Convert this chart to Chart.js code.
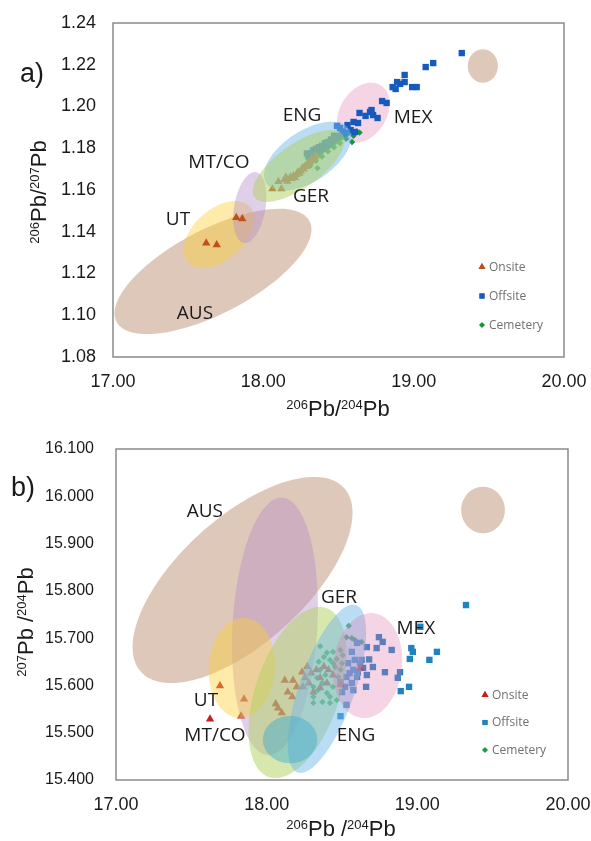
<!DOCTYPE html>
<html><head><meta charset="utf-8">
<script src="https://cdn.jsdelivr.net/npm/chart.js@4.4.1/dist/chart.umd.min.js"></script>
<style>
html,body{margin:0;padding:0;background:#fff;width:591px;height:841px;overflow:hidden;}
#wa{position:absolute;left:0;top:0;width:591px;height:420px;}
#wb{position:absolute;left:0;top:420px;width:591px;height:421px;}
canvas{display:block;}
</style></head><body>
<div id="wa"><canvas id="ca" width="591" height="420"></canvas></div>
<div id="wb"><canvas id="cb" width="591" height="421"></canvas></div>
<script>
// ---------- DATA ----------
const seriesNames = ['Onsite', 'Offsite', 'Cemetery'];
const xTicks = [17.00, 18.00, 19.00, 20.00];
const yTicksA = [1.08, 1.10, 1.12, 1.14, 1.16, 1.18, 1.20, 1.22, 1.24];
const yTicksB = [15.400, 15.500, 15.600, 15.700, 15.800, 15.900, 16.000, 16.100];

// Panel a: 206Pb/204Pb vs 206Pb/207Pb
const onsiteA = [
 [17.62,1.1346],[17.69,1.1337],[17.82,1.1468],[17.86,1.1462],[18.06,1.1605],[18.12,1.1605],
 [18.10,1.1640],[18.14,1.1650],[18.16,1.1642],[18.18,1.1662],[18.20,1.1668],[18.22,1.1674],
 [18.23,1.1686],[18.25,1.1691],[18.27,1.1700],[18.28,1.1712],[18.30,1.1718],[18.31,1.1730],
 [18.33,1.1740],[18.19,1.1655],[18.24,1.1680],[18.26,1.1706],[18.29,1.1724],[18.21,1.1660],
 [18.15,1.1662],[18.34,1.1755],[18.32,1.1748],[18.35,1.1762]
];
const offsiteA = [
 [19.32,1.2256],[19.08,1.2189],[19.13,1.2208],[18.94,1.2151],[18.94,1.2117],[18.99,1.2093],
 [19.02,1.2093],[18.91,1.2108],[18.88,1.2084],[18.86,1.2093],[18.89,1.2117],[18.79,1.2026],
 [18.82,1.2017],[18.64,1.1969],[18.68,1.1955],[18.71,1.1974],[18.73,1.1959],[18.76,1.1945],
 [18.72,1.1983],[18.60,1.1926],[18.63,1.1921],[18.56,1.1911],[18.58,1.1887],[18.61,1.1878],
 [18.49,1.1907],[18.51,1.1897],[18.54,1.1873],
 [18.30,1.1760],[18.32,1.1775],[18.34,1.1770],[18.36,1.1785],[18.38,1.1795],[18.40,1.1800],
 [18.42,1.1812],[18.44,1.1820],[18.46,1.1835],[18.48,1.1845],[18.50,1.1858],[18.52,1.1865],
 [18.33,1.1790],[18.37,1.1805],[18.41,1.1825],[18.45,1.1842],[18.47,1.1860],[18.29,1.1775],
 [18.35,1.1798],[18.43,1.1830],[18.39,1.1812],[18.53,1.1880]
];
const cemeteryA = [
 [18.26,1.1705],[18.28,1.1720],[18.30,1.1730],[18.32,1.1740],[18.34,1.1755],[18.36,1.1765],
 [18.38,1.1775],[18.40,1.1790],[18.42,1.1800],[18.44,1.1810],[18.46,1.1822],[18.48,1.1830],
 [18.50,1.1842],[18.52,1.1850],[18.54,1.1858],[18.56,1.1868],[18.58,1.1875],[18.62,1.1880],
 [18.64,1.1875],[18.31,1.1715],[18.35,1.1740],[18.39,1.1760],[18.43,1.1785],[18.47,1.1805],
 [18.51,1.1825],[18.55,1.1845],[18.60,1.1860],[18.37,1.1780],[18.45,1.1820],[18.53,1.1862],
 [18.36,1.1705],[18.59,1.1830]
];

// Panel b: 206Pb/204Pb vs 207Pb/204Pb
const onsiteB = [
 [17.69,15.599],[17.624,15.529],[17.85,15.571],[17.83,15.535],[18.06,15.561],[18.075,15.552],
 [18.10,15.542],[18.12,15.611],[18.175,15.611],[18.14,15.586],[18.17,15.576],[18.235,15.628],
 [18.255,15.616],[18.28,15.605],[18.33,15.633],[18.355,15.616],[18.40,15.605],[18.44,15.622],
 [18.31,15.586],[18.24,15.597],[18.20,15.597],[18.355,15.595],[18.41,15.633],[18.295,15.626],
 [18.49,15.601],[18.62,15.637],[18.27,15.640],[18.38,15.640]
];
const offsiteB = [
 [19.323,15.770],[19.02,15.724],[18.96,15.679],[18.97,15.671],[18.95,15.656],[19.13,15.671],
 [19.08,15.654],[18.885,15.628],[18.87,15.616],[18.945,15.597],[18.89,15.588],[18.745,15.702],
 [18.77,15.692],[18.83,15.675],[18.73,15.679],[18.665,15.681],[18.60,15.690],[18.705,15.639],
 [18.785,15.628],[18.665,15.622],[18.62,15.647],[18.66,15.597],[18.565,15.671],[18.585,15.654],
 [18.54,15.647],[18.575,15.633],[18.53,15.618],[18.60,15.618],[18.565,15.605],[18.52,15.597],
 [18.575,15.590],[18.50,15.586],[18.53,15.559],[18.49,15.535],[18.64,15.637],[18.63,15.654],
 [18.55,15.626],[18.605,15.628],[18.49,15.607],[18.68,15.655]
];
const cemeteryB = [
 [18.545,15.726],[18.53,15.702],[18.565,15.700],[18.585,15.696],[18.63,15.692],[18.355,15.683],
 [18.40,15.669],[18.44,15.671],[18.49,15.675],[18.505,15.664],[18.42,15.654],[18.465,15.656],
 [18.50,15.647],[18.455,15.639],[18.355,15.633],[18.39,15.622],[18.335,15.616],[18.37,15.605],
 [18.31,15.597],[18.34,15.590],[18.40,15.584],[18.44,15.597],[18.42,15.576],[18.31,15.576],
 [18.37,15.565],[18.42,15.563],[18.465,15.569],[18.31,15.563],[18.49,15.633],[18.44,15.647],
 [18.475,15.618],[18.345,15.650],[18.38,15.660]
];

// Source-region ellipses: [region, centreX, centreY, halfWidthX, halfHeightY, tilt(correlation)]
const regionsA = [
 ['AUS', 17.665, 1.1210, 0.655, 0.0300, 0.67],
 ['UT', 17.705, 1.1387, 0.235, 0.0160, 0.46],
 ['MT/CO', 17.910, 1.1516, 0.110, 0.0170, 0.30],
 ['ENG', 18.295, 1.1762, 0.290, 0.0165, 0.55],
 ['GER', 18.235, 1.1715, 0.305, 0.0172, 0.70],
 ['MEX', 18.665, 1.1970, 0.175, 0.0144, 0.30],
 ['AUS', 19.460, 1.2194, 0.100, 0.0080, 0.00]
];
const regionsB = [
 ['AUS', 17.840, 15.823, 0.730, 0.218, 0.65],
 ['MT/CO', 18.055, 15.725, 0.285, 0.272, 0.15],
 ['UT', 17.835, 15.637, 0.220, 0.106, 0.05],
 ['GER', 18.205, 15.585, 0.325, 0.181, 0.45],
 ['ENG', 18.400, 15.593, 0.260, 0.178, 0.67],
 ['MEX', 18.670, 15.642, 0.230, 0.111, 0.10],
 ['ENG2', 18.155, 15.4855, 0.180, 0.050, 0.00],
 ['AUS', 19.436, 15.971, 0.145, 0.049, 0.00]
];
// Region labels: [text, x, y] in data units
const labelsA = [
 ['ENG', 18.257, 1.1955], ['MEX', 18.996, 1.1945], ['MT/CO', 17.705, 1.1730],
 ['GER', 18.317, 1.1570], ['UT', 17.432, 1.1460], ['AUS', 17.545, 1.1010]
];
const labelsB = [
 ['AUS', 17.590, 15.967], ['GER', 18.480, 15.785], ['MEX', 18.990, 15.721],
 ['UT', 17.597, 15.567], ['MT/CO', 17.657, 15.493], ['ENG', 18.593, 15.493]
];

// ---------- STYLES ----------
const regionColors = {
 'AUS': 'rgba(189,145,115,0.50)',
 'UT': 'rgba(252,208,50,0.42)',
 'MT/CO': 'rgba(180,140,200,0.42)',
 'GER': 'rgba(175,210,95,0.50)',
 'ENG': 'rgba(120,185,235,0.50)',
 'MEX': 'rgba(225,120,175,0.32)',
 'ENG2': 'rgba(60,170,205,0.45)'
};
const FONT_AX = '"Liberation Sans", Arial, sans-serif';
const FONT_LBL = '"Open Sans", sans-serif';

const toXY = arr => arr.map(p => ({x: p[0], y: p[1]}));

function fillEllipses(chart, list) {
  const {ctx, chartArea: ca, scales: {x, y}} = chart;
  ctx.save();
  ctx.beginPath(); ctx.rect(ca.left, ca.top, ca.right - ca.left, ca.bottom - ca.top); ctx.clip();
  list.forEach(r => {
    const [name, cx, cy, rx, ry, rho] = r;
    const s = Math.sqrt(1 - rho * rho);
    ctx.beginPath();
    for (let i = 0; i <= 120; i++) {
      const t = i / 120 * Math.PI * 2;
      const dx = cx + rx * Math.cos(t);
      const dy = cy + ry * (rho * Math.cos(t) + s * Math.sin(t));
      const px = x.getPixelForValue(dx), py = y.getPixelForValue(dy);
      if (i === 0) ctx.moveTo(px, py); else ctx.lineTo(px, py);
    }
    ctx.closePath();
    ctx.fillStyle = regionColors[name];
    ctx.fill();
  });
  ctx.restore();
}

const ellipsePlugin = {
  id: 'ellipses',
  beforeDatasetsDraw(chart, args, opts) {
    fillEllipses(chart, opts.list.filter(r => !opts.over.includes(r[0])));
  },
  afterDatasetsDraw(chart, args, opts) {
    fillEllipses(chart, opts.list.filter(r => opts.over.includes(r[0])));
    const {ctx, scales: {x, y}} = chart;
    ctx.save();
    ctx.font = '19px ' + FONT_LBL;
    ctx.fillStyle = '#1a1a1a';
    ctx.textAlign = 'center'; ctx.textBaseline = 'middle';
    opts.labels.forEach(l => {
      ctx.fillText(l[0], x.getPixelForValue(l[1]), y.getPixelForValue(l[2]));
    });
    ctx.restore();
  }
};

function drawRich(ctx, parts, cx, cy, rot, big, small) {
  ctx.save();
  ctx.translate(cx, cy);
  if (rot) ctx.rotate(-Math.PI / 2);
  let w = 0;
  parts.forEach(p => { ctx.font = (p[1] ? small : big) + 'px ' + FONT_AX; w += ctx.measureText(p[0]).width; });
  let xx = -w / 2;
  ctx.fillStyle = '#1a1a1a';
  ctx.textBaseline = 'alphabetic'; ctx.textAlign = 'left';
  parts.forEach(p => {
    ctx.font = (p[1] ? small : big) + 'px ' + FONT_AX;
    ctx.fillText(p[0], xx, p[1] ? 0.5 : big * 0.36);
    xx += ctx.measureText(p[0]).width;
  });
  ctx.restore();
}

const decorPlugin = {
  id: 'decor',
  afterDraw(chart, args, o) {
    const {ctx, chartArea: ca} = chart;
    ctx.save();
    ctx.strokeStyle = '#8a8a8a'; ctx.lineWidth = 1.5;
    ctx.strokeRect(ca.left, ca.top, ca.right - ca.left, ca.bottom - ca.top);
    ctx.restore();
    drawRich(ctx, o.xTitle, o.xTitlePos[0], o.xTitlePos[1], false, 22, 13);
    drawRich(ctx, o.yTitle, o.yTitlePos[0], o.yTitlePos[1], true, 22, 13);
    ctx.save();
    ctx.font = '27px ' + FONT_AX; ctx.fillStyle = '#1a1a1a';
    ctx.textAlign = 'left'; ctx.textBaseline = 'alphabetic';
    ctx.fillText(o.tag, o.tagPos[0], o.tagPos[1]);
    ctx.restore();
    ctx.save();
    chart.data.datasets.forEach((ds, i) => {
      const lx = o.legendPos[0], ly = o.legendPos[1] + i * o.legendGap;
      ctx.fillStyle = ds.backgroundColor;
      Chart.helpers.drawPoint(ctx, {pointStyle: ds.pointStyle, radius: ds.legendRadius, rotation: 0, borderWidth: 0}, lx, ly);
      ctx.fillStyle = ds.backgroundColor; ctx.fill();
      ctx.font = '12px ' + FONT_LBL; ctx.fillStyle = '#707070';
      ctx.textAlign = 'left'; ctx.textBaseline = 'middle';
      ctx.fillText(ds.label, lx + 7, ly + 0.5);
    });
    ctx.restore();
  }
};

function makeChart(canvasId, p) {
  const colors = p.colors;
  const styles = ['triangle', 'rect', 'rectRot'];
  const radii = [4.8, 4.5, 3.2];
  const legR = [4, 3.6, 2.8];
  const datas = [p.on, p.off, p.cem];
  return new Chart(document.getElementById(canvasId), {
    type: 'scatter',
    data: {
      datasets: seriesNames.map((n, i) => ({
        label: n, data: toXY(datas[i]), pointStyle: styles[i], pointRadius: radii[i],
        pointBorderWidth: 0, backgroundColor: colors[i], borderColor: colors[i], legendRadius: legR[i]
      }))
    },
    options: {
      responsive: false, animation: false, devicePixelRatio: 1,
      layout: {padding: {left: 0, right: p.padRight, top: p.padTop, bottom: 0}},
      plugins: {
        legend: {display: false}, tooltip: {enabled: false},
        ellipses: {list: p.regions, labels: p.labels, over: p.over},
        decor: p.decor
      },
      scales: {
        x: {
          type: 'linear', min: 17, max: 20,
          afterBuildTicks: s => { s.ticks = xTicks.map(v => ({value: v})); },
          afterFit: s => { s.height = p.xH; s.paddingLeft = 0; s.paddingRight = 0; },
          ticks: {callback: v => Number(v).toFixed(2), font: {family: FONT_AX, size: 18}, color: '#1a1a1a', padding: 14, maxRotation: 0, autoSkip: false},
          grid: {display: false, drawTicks: false}, border: {display: false}
        },
        y: {
          type: 'linear', min: p.yTicks[0], max: p.yTicks[p.yTicks.length - 1],
          afterBuildTicks: s => { s.ticks = p.yTicks.map(v => ({value: v})); },
          afterFit: s => { s.width = p.yW; s.paddingTop = 0; s.paddingBottom = 0; },
          ticks: {callback: v => Number(v).toFixed(p.yDec), font: {family: FONT_AX, size: p.yFont}, color: '#1a1a1a', padding: p.yPad, autoSkip: false},
          grid: {display: false, drawTicks: false}, border: {display: false}
        }
      }
    },
    plugins: [ellipsePlugin, decorPlugin]
  });
}

makeChart('ca', {
  on: onsiteA, off: offsiteA, cem: cemeteryA, regions: regionsA, labels: labelsA, over: ['ENG', 'GER'],
  colors: ['rgb(196,78,24)', 'rgb(22,90,190)', 'rgb(20,150,60)'],
  yTicks: yTicksA, yDec: 2, yFont: 18, yPad: 17, yW: 113, xH: 63, padRight: 27, padTop: 23,
  decor: {
    xTitle: [['206', true], ['Pb', false], ['/', false], ['204', true], ['Pb', false]], xTitlePos: [338, 408],
    yTitle: [['206', true], ['Pb', false], ['/', false], ['207', true], ['Pb', false]], yTitlePos: [38, 192],
    tag: 'a)', tagPos: [20, 82], legendPos: [482, 267], legendGap: 29
  }
});
makeChart('cb', {
  on: onsiteB, off: offsiteB, cem: cemeteryB, regions: regionsB, labels: labelsB,
  over: ['AUS', 'MT/CO', 'UT', 'GER', 'ENG', 'MEX', 'ENG2'],
  colors: ['rgb(200,30,30)', 'rgb(30,130,195)', 'rgb(20,160,70)'],
  yTicks: yTicksB, yDec: 3, yFont: 16, yPad: 22, yW: 116, xH: 61, padRight: 23, padTop: 29,
  decor: {
    xTitle: [['206', true], ['Pb', false], [' /', false], ['204', true], ['Pb', false]], xTitlePos: [341, 408],
    yTitle: [['207', true], ['Pb', false], [' /', false], ['204', true], ['Pb', false]], yTitlePos: [25, 202],
    tag: 'b)', tagPos: [11, 76], legendPos: [485, 275], legendGap: 27.5
  }
});
</script>
</body></html>
